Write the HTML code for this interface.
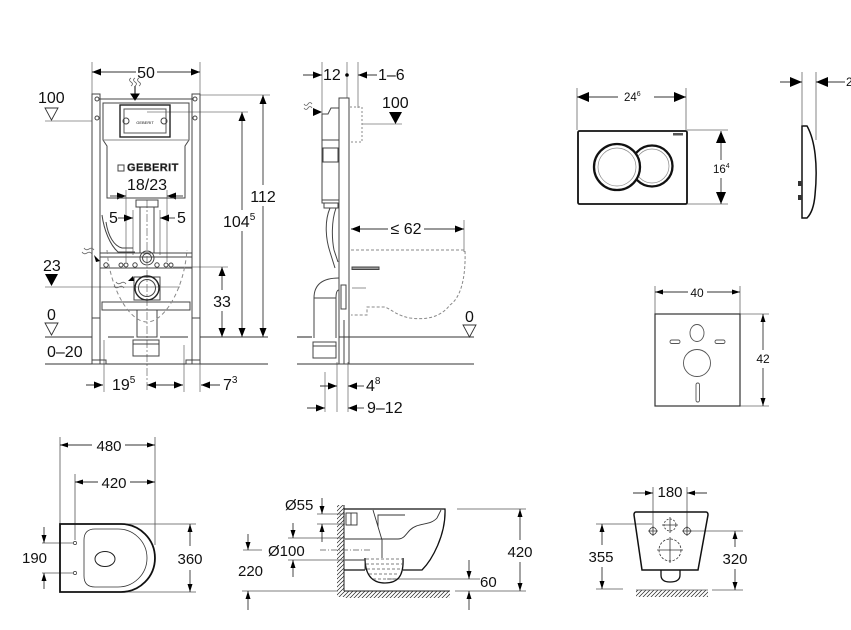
<!DOCTYPE html>
<html><head><meta charset="utf-8"><style>
html,body{margin:0;padding:0;background:#fff;}
svg{display:block;}
text{font-family:"Liberation Sans",Arial,sans-serif;fill:#111;}
</style></head><body>
<svg width="851" height="630" viewBox="0 0 851 630" xmlns="http://www.w3.org/2000/svg">
<defs>
<marker id="A" viewBox="0 0 10 10" refX="10" refY="5" markerWidth="9" markerHeight="7" preserveAspectRatio="none" markerUnits="userSpaceOnUse" orient="auto-start-reverse"><path d="M0,0L10,5L0,10z" fill="#000"/></marker>
<marker id="S" viewBox="0 0 10 10" refX="10" refY="5" markerWidth="8" markerHeight="5" preserveAspectRatio="none" markerUnits="userSpaceOnUse" orient="auto-start-reverse"><path d="M0,0L10,5L0,10z" fill="#000"/></marker>
<marker id="P" viewBox="0 0 10 10" refX="10" refY="5" markerWidth="12" markerHeight="10" preserveAspectRatio="none" markerUnits="userSpaceOnUse" orient="auto-start-reverse"><path d="M0,0L10,5L0,10z" fill="#000"/></marker>
<pattern id="H" width="4" height="4" patternUnits="userSpaceOnUse"><path d="M-1,1L1,-1M0,4L4,0M3,5L5,3" stroke="#222" stroke-width="0.7"/></pattern>
</defs>

<!-- ================= FRAME VIEW (left top) ================= -->
<g stroke="#777" stroke-width="0.8" fill="none">
 <line x1="92" y1="62" x2="92" y2="94"/>
 <line x1="200" y1="62" x2="200" y2="94"/>
 <line x1="200" y1="95" x2="270" y2="95"/>
 <line x1="147" y1="112" x2="248" y2="112"/>
 <line x1="45" y1="121" x2="92" y2="121"/>
 <line x1="45" y1="287" x2="180" y2="287"/>
 <line x1="173" y1="267" x2="228" y2="267"/>
 <line x1="126" y1="190" x2="126" y2="262"/>
 <line x1="167" y1="190" x2="167" y2="262"/>
 <line x1="133" y1="210" x2="133" y2="255"/>
 <line x1="160" y1="210" x2="160" y2="255"/>
 <line x1="104" y1="340" x2="104" y2="392"/>
 <line x1="184" y1="345" x2="184" y2="392"/>
 <line x1="200" y1="364" x2="200" y2="392"/>
 <line x1="147" y1="200" x2="147" y2="392" stroke-dasharray="8,2,2,2"/>
</g>
<g stroke="#333" stroke-width="1.1">
 <line x1="45" y1="337" x2="92" y2="337"/>
 <line x1="108" y1="337" x2="134" y2="337"/>
 <line x1="160" y1="337" x2="188" y2="337"/>
 <line x1="200" y1="337" x2="268" y2="337"/>
 <line x1="45" y1="364" x2="268" y2="364"/>
</g>
<g stroke="#333" stroke-width="0.9" fill="none">
 <line x1="92" y1="72" x2="136" y2="72" marker-start="url(#A)"/>
 <line x1="157" y1="72" x2="200" y2="72" marker-end="url(#A)"/>
 <line x1="263" y1="95" x2="263" y2="185" marker-start="url(#A)"/>
 <line x1="263" y1="206" x2="263" y2="337" marker-end="url(#A)"/>
 <line x1="242" y1="112" x2="242" y2="210" marker-start="url(#A)"/>
 <line x1="242" y1="231" x2="242" y2="337" marker-end="url(#A)"/>
 <line x1="222" y1="267" x2="222" y2="290" marker-start="url(#A)"/>
 <line x1="222" y1="311" x2="222" y2="337" marker-end="url(#A)"/>
 <line x1="86" y1="385" x2="103" y2="385" marker-end="url(#A)"/>
 <line x1="147" y1="385" x2="183" y2="385" marker-start="url(#A)" marker-end="url(#A)"/>
 <line x1="220" y1="385" x2="201" y2="385" marker-end="url(#A)"/>
 <line x1="110" y1="196" x2="126" y2="196" marker-end="url(#A)"/>
 <line x1="183" y1="196" x2="167" y2="196" marker-end="url(#A)"/>
 <line x1="118" y1="218" x2="133" y2="218" marker-end="url(#A)"/>
 <line x1="175" y1="218" x2="160" y2="218" marker-end="url(#A)"/>
</g>
<!-- frame body -->
<g stroke="#444" stroke-width="1" fill="none">
 <rect x="92" y="94" width="8" height="270"/>
 <rect x="192" y="94" width="8" height="270"/>
 <line x1="100" y1="99" x2="192" y2="99"/>
 <line x1="92" y1="318" x2="100" y2="318"/>
 <line x1="192" y1="318" x2="200" y2="318"/>
 <rect x="92" y="360" width="14" height="4"/>
 <rect x="186" y="360" width="14" height="4"/>
 <path d="M103,103H189V140L185,146V198H107V146L103,140Z"/>
 <line x1="103" y1="140" x2="189" y2="140" stroke="#888"/>
 <rect x="120" y="105" width="50" height="32" stroke="#222" stroke-width="1.4"/>
 <rect x="124" y="109" width="42" height="24" stroke="#555"/>
 <circle cx="126" cy="121" r="3"/><circle cx="164" cy="121" r="3"/>
 <circle cx="97" cy="99" r="2"/><circle cx="195" cy="99" r="2"/>
 <circle cx="97" cy="118" r="2"/><circle cx="195" cy="118" r="2"/>
 <rect x="118" y="165" width="6" height="6"/>
 <rect x="136" y="200" width="22" height="7"/>
 <rect x="140" y="207" width="14" height="46"/>
 <path d="M102,215C104,230 110,245 118,252H135"/>
 <path d="M106,222C108,236 114,246 122,248H133"/>
 <rect x="100" y="253" width="92" height="4"/>
 <line x1="100" y1="268" x2="192" y2="268"/>
 <circle cx="147" cy="258" r="7"/>
 <circle cx="147" cy="258" r="4.5"/>
 <circle cx="106" cy="265" r="2.2"/><circle cx="121" cy="265" r="2"/><circle cx="126" cy="265" r="2"/>
 <circle cx="135" cy="265" r="2.2"/><circle cx="157" cy="265" r="2.2"/><circle cx="166" cy="265" r="2"/><circle cx="171" cy="265" r="2"/>
 <path d="M134,277H160V300H134Z"/>
 <circle cx="147" cy="288" r="12" stroke="#222" stroke-width="1.4"/>
 <circle cx="147" cy="288" r="8.5"/>
 <rect x="102" y="302" width="88" height="8"/>
 <rect x="137" y="310" width="20" height="27"/>
 <rect x="133" y="340" width="26" height="16"/>
 <line x1="133" y1="344" x2="159" y2="344"/>
 <path d="M107,250C110,290 130,322 147,322C164,322 184,290 187,250" stroke="#888" stroke-dasharray="4,3"/>
 <path d="M131,86q3,-2 0,-4q-3,-2 0,-4M135,86q3,-2 0,-4q-3,-2 0,-4M139,86q3,-2 0,-4q-3,-2 0,-4" stroke="#666" stroke-width="0.8"/>
 <path d="M84,248q2,3 5,1q3,-2 5,1M82,252q2,3 5,1q3,-2 5,1" stroke="#666" stroke-width="0.8"/>
 <path d="M116,282q2,3 5,1q3,-2 5,1M114,286q2,3 5,1q3,-2 5,1" stroke="#666" stroke-width="0.8"/>
</g>
<path d="M135,86V95M131,94L135,100L139,94Z" fill="#000" stroke="#000" stroke-width="1"/>
<path d="M94,255L100,261L96,262Z" fill="#000"/>
<path d="M128,281L133,276L134,281Z" fill="#000"/>
<text x="127" y="171" font-size="11" fill="#fff" stroke="#666" stroke-width="0.5" font-weight="bold" letter-spacing="0.4">GEBERIT</text>
<text x="145" y="124" font-size="4" text-anchor="middle" fill="#555">GEBERIT</text>
<text x="146" y="78" text-anchor="middle" font-size="16">50</text>
<text x="38" y="103" font-size="16">100</text>
<path d="M45,108H58L51.5,120Z" fill="#fff" stroke="#333" stroke-width="0.9"/>
<text x="43" y="271" font-size="16">23</text>
<path d="M45,274H58L51.5,286Z" fill="#000"/>
<text x="47" y="320" font-size="16">0</text>
<path d="M45,323H58L51.5,335Z" fill="#fff" stroke="#333" stroke-width="0.9"/>
<text x="47" y="357" font-size="16">0–20</text>
<text x="263" y="202" text-anchor="middle" font-size="16">112</text>
<text x="223" y="227" font-size="16">104<tspan font-size="10" dy="-7">5</tspan></text>
<text x="222" y="307" text-anchor="middle" font-size="16">33</text>
<text x="147" y="190" text-anchor="middle" font-size="16">18/23</text>
<text x="109" y="223" font-size="16">5</text>
<text x="177" y="223" font-size="16">5</text>
<text x="112" y="390" font-size="16">19<tspan font-size="10" dy="-7">5</tspan></text>
<text x="223" y="390" font-size="16">7<tspan font-size="10" dy="-7">3</tspan></text>

<!-- ================= SIDE VIEW (middle top) ================= -->
<g stroke="#777" stroke-width="0.8" fill="none">
 <line x1="322" y1="62" x2="322" y2="120"/>
 <line x1="347" y1="62" x2="347" y2="98"/>
 <line x1="358" y1="62" x2="358" y2="108"/>
 <line x1="362" y1="124" x2="402" y2="124"/>
 <line x1="464" y1="220" x2="464" y2="252"/>
 <line x1="337" y1="362" x2="337" y2="412"/>
 <line x1="348" y1="362" x2="348" y2="412"/>
 <line x1="325" y1="372" x2="325" y2="412"/>
 <line x1="352" y1="288" x2="366" y2="288"/>
</g>
<circle cx="347" cy="75" r="1.8" fill="#000"/>
<g stroke="#333" stroke-width="1.1">
 <line x1="297" y1="337" x2="312" y2="337"/>
 <line x1="339" y1="337" x2="474" y2="337"/>
 <line x1="297" y1="364" x2="474" y2="364"/>
</g>
<g stroke="#333" stroke-width="0.9" fill="none">
 <line x1="303" y1="75" x2="322" y2="75" marker-end="url(#A)"/>
 <line x1="377" y1="75" x2="358" y2="75" marker-end="url(#A)"/>
 <line x1="351" y1="229" x2="388" y2="229" marker-start="url(#A)"/>
 <line x1="424" y1="229" x2="464" y2="229" marker-end="url(#A)"/>
 <line x1="320" y1="386" x2="337" y2="386" marker-end="url(#A)"/>
 <line x1="364" y1="386" x2="348" y2="386" marker-end="url(#A)"/>
 <line x1="307" y1="408" x2="325" y2="408" marker-end="url(#A)"/>
 <line x1="364" y1="408" x2="348" y2="408" marker-end="url(#A)"/>
</g>
<g stroke="#444" stroke-width="1" fill="none">
 <rect x="339" y="98" width="10" height="266"/>
 <line x1="344" y1="320" x2="344" y2="364"/>
 <path d="M339,108H331L328,114H322V203H339"/>
 <line x1="322" y1="140" x2="339" y2="140"/>
 <rect x="323" y="148" width="15" height="14"/>
 <line x1="322" y1="200" x2="339" y2="200"/>
 <rect x="324" y="203" width="14" height="5"/>
 <path d="M330,208C324,222 326,240 330,252L335,268"/>
 <path d="M336,208C331,222 332,240 334,250L338,262"/>
 <path d="M314,338V298Q314,278 339,278"/>
 <path d="M336,338V298Q336,290 339,290"/>
 <line x1="314" y1="298" x2="336" y2="298"/>
 <rect x="313" y="342" width="23" height="16"/>
 <line x1="313" y1="346" x2="336" y2="346"/>
 <rect x="341" y="285" width="5" height="24"/>
 <rect x="352" y="267" width="27" height="2.5" fill="#999"/>
 <path d="M350,107H362V142H350" stroke="#888" stroke-dasharray="2,2"/>
 <path d="M351,250H465C466,280 460,298 450,305C440,318 425,320 410,318C398,316 392,310 385,307H367V315H351" stroke="#888" stroke-dasharray="3,2"/>
 <path d="M300,112q3,-2 0,-4q-3,-2 0,-4M304,112q3,-2 0,-4q-3,-2 0,-4" stroke="#666" stroke-width="0.8" transform="rotate(90 306 110)"/>
</g>
<path d="M313,108L322,112L313,116Z" fill="#000"/>
<text x="323" y="80" font-size="16">12</text>
<text x="378" y="80" font-size="16">1–6</text>
<text x="382" y="108" font-size="16">100</text>
<path d="M389,112H402L395.5,124Z" fill="#000"/>
<text x="406" y="234" text-anchor="middle" font-size="16">≤ 62</text>
<text x="465" y="322" font-size="16">0</text>
<path d="M463,325H476L469.5,337Z" fill="#fff" stroke="#333" stroke-width="0.9"/>
<text x="366" y="391" font-size="16">4<tspan font-size="10" dy="-7">8</tspan></text>
<text x="367" y="413" font-size="16">9–12</text>

<!-- ================= FLUSH PLATE ================= -->
<g stroke="#666" stroke-width="0.8" fill="none">
 <line x1="577" y1="88" x2="577" y2="130"/>
 <line x1="686" y1="88" x2="686" y2="130"/>
 <line x1="687" y1="130" x2="728" y2="130"/>
 <line x1="687" y1="204" x2="728" y2="204"/>
 <line x1="802" y1="72" x2="802" y2="125"/>
 <line x1="816" y1="72" x2="816" y2="140"/>
</g>
<g stroke="#333" stroke-width="0.9" fill="none">
 <line x1="577" y1="97" x2="618" y2="97" marker-start="url(#P)"/>
 <line x1="654" y1="97" x2="686" y2="97" marker-end="url(#P)"/>
 <line x1="721" y1="131" x2="721" y2="160" marker-start="url(#P)"/>
 <line x1="721" y1="178" x2="721" y2="204" marker-end="url(#P)"/>
 <line x1="780" y1="82" x2="802" y2="82" marker-end="url(#P)"/>
 <line x1="845" y1="82" x2="816" y2="82" marker-end="url(#P)"/>
</g>
<rect x="578" y="131" width="109" height="73" rx="1.5" fill="#fff" stroke="#111" stroke-width="1.8"/>
<circle cx="652" cy="166" r="20.5" fill="#fff" stroke="#111" stroke-width="2.3"/>
<circle cx="652" cy="166" r="17" fill="none" stroke="#888" stroke-width="0.7"/>
<circle cx="617" cy="167" r="23" fill="#fff" stroke="#111" stroke-width="2.3"/>
<circle cx="617" cy="167" r="19" fill="none" stroke="#888" stroke-width="0.7"/>
<rect x="673" y="133" width="10" height="2.5" fill="#555"/>
<path d="M802,126H807C815,140 818,165 815,195C814,207 811,214 807,218H802Z" fill="#fff" stroke="#111" stroke-width="1.5"/>
<rect x="798" y="181" width="4" height="5" fill="#333"/>
<rect x="798" y="195" width="4" height="5" fill="#333"/>
<text x="624" y="101" font-size="11.5">24<tspan font-size="7" dy="-5">6</tspan></text>
<text x="713" y="173" font-size="11.5">16<tspan font-size="7" dy="-5">4</tspan></text>
<text x="846" y="86" font-size="12">2</text>

<!-- ================= MOUNTING PAD ================= -->
<g stroke="#666" stroke-width="0.8" fill="none">
 <line x1="655" y1="286" x2="655" y2="314"/>
 <line x1="740" y1="286" x2="740" y2="314"/>
 <line x1="740" y1="314" x2="769" y2="314"/>
 <line x1="740" y1="406" x2="769" y2="406"/>
</g>
<g stroke="#333" stroke-width="0.9" fill="none">
 <line x1="655" y1="292" x2="688" y2="292" marker-start="url(#S)"/>
 <line x1="707" y1="292" x2="740" y2="292" marker-end="url(#S)"/>
 <line x1="763" y1="314" x2="763" y2="350" marker-start="url(#S)"/>
 <line x1="763" y1="368" x2="763" y2="406" marker-end="url(#S)"/>
</g>
<rect x="655" y="314" width="85" height="92" fill="none" stroke="#333" stroke-width="1.2"/>
<g stroke="#555" stroke-width="0.9" fill="none">
 <ellipse cx="697" cy="333" rx="7" ry="8.5"/>
 <rect x="670" y="340" width="10" height="3.5" rx="1.7"/>
 <rect x="715" y="340" width="10" height="3.5" rx="1.7"/>
 <circle cx="697" cy="363" r="13.5"/>
 <rect x="696" y="383" width="3.5" height="19" rx="1.7"/>
</g>
<text x="697" y="297" text-anchor="middle" font-size="12">40</text>
<text x="763" y="363" text-anchor="middle" font-size="12">42</text>

<!-- ================= TOP VIEW TOILET ================= -->
<g stroke="#555" stroke-width="0.8" fill="none">
 <line x1="60" y1="437" x2="60" y2="524"/>
 <line x1="155" y1="437" x2="155" y2="545"/>
 <line x1="75" y1="474" x2="75" y2="540"/>
 <line x1="42" y1="543" x2="73" y2="543"/>
 <line x1="42" y1="573" x2="73" y2="573"/>
 <line x1="125" y1="524" x2="196" y2="524"/>
 <line x1="120" y1="592" x2="196" y2="592"/>
</g>
<g stroke="#333" stroke-width="0.9" fill="none">
 <line x1="60" y1="445" x2="92" y2="445" marker-start="url(#S)"/>
 <line x1="125" y1="445" x2="155" y2="445" marker-end="url(#S)"/>
 <line x1="75" y1="482" x2="98" y2="482" marker-start="url(#S)"/>
 <line x1="130" y1="482" x2="155" y2="482" marker-end="url(#S)"/>
 <line x1="44" y1="527" x2="44" y2="543" marker-end="url(#S)"/>
 <line x1="44" y1="589" x2="44" y2="573" marker-end="url(#S)"/>
 <line x1="190" y1="524" x2="190" y2="546" marker-start="url(#S)"/>
 <line x1="190" y1="570" x2="190" y2="592" marker-end="url(#S)"/>
</g>
<path d="M60,524H121A34,34 0 0 1 121,592H60Z" fill="none" stroke="#111" stroke-width="1.8"/>
<path d="M95,529H118A29,29 0 0 1 118,587H95Q84,587 84,576V540Q84,529 95,529Z" fill="none" stroke="#333" stroke-width="0.8"/>
<ellipse cx="105" cy="559" rx="10" ry="7.5" fill="none" stroke="#222" stroke-width="1"/>
<circle cx="75" cy="543" r="1.6" fill="none" stroke="#333" stroke-width="0.7"/>
<circle cx="75" cy="573" r="1.6" fill="none" stroke="#333" stroke-width="0.7"/>
<text x="109" y="451" text-anchor="middle" font-size="15">480</text>
<text x="114" y="488" text-anchor="middle" font-size="15">420</text>
<text x="22" y="563" font-size="15">190</text>
<text x="190" y="564" text-anchor="middle" font-size="15">360</text>

<!-- ================= SIDE VIEW TOILET ================= -->
<rect x="337" y="505" width="7" height="92" fill="url(#H)"/>
<rect x="344" y="591" width="106" height="7" fill="url(#H)"/>
<line x1="344" y1="505" x2="344" y2="591" stroke="#222" stroke-width="1"/>
<line x1="344" y1="591" x2="450" y2="591" stroke="#222" stroke-width="1"/>
<g stroke="#555" stroke-width="0.8" fill="none">
 <line x1="317" y1="514" x2="345" y2="514"/>
 <line x1="317" y1="524" x2="345" y2="524"/>
 <line x1="288" y1="538" x2="345" y2="538"/>
 <line x1="288" y1="560" x2="345" y2="560"/>
 <line x1="243" y1="550" x2="262" y2="550"/>
 <line x1="320" y1="550" x2="372" y2="550" stroke-dasharray="6,2,1,2"/>
 <line x1="242" y1="591" x2="338" y2="591"/>
 <line x1="387" y1="579" x2="480" y2="579"/>
 <line x1="455" y1="591" x2="526" y2="591"/>
 <line x1="457" y1="509" x2="526" y2="509"/>
</g>
<g stroke="#333" stroke-width="0.9" fill="none">
 <line x1="322" y1="498" x2="322" y2="514" marker-end="url(#S)"/>
 <line x1="322" y1="542" x2="322" y2="524" marker-end="url(#S)"/>
 <line x1="293" y1="523" x2="293" y2="538" marker-end="url(#S)"/>
 <line x1="293" y1="577" x2="293" y2="560" marker-end="url(#S)"/>
 <line x1="248" y1="534" x2="248" y2="550" marker-end="url(#S)"/>
 <line x1="248" y1="610" x2="248" y2="591" marker-end="url(#S)"/>
 <line x1="469" y1="560" x2="469" y2="579" marker-end="url(#S)"/>
 <line x1="469" y1="610" x2="469" y2="591" marker-end="url(#S)"/>
 <line x1="520" y1="509" x2="520" y2="540" marker-start="url(#S)"/>
 <line x1="520" y1="562" x2="520" y2="591" marker-end="url(#S)"/>
</g>
<g stroke="#111" stroke-width="1.3" fill="none">
 <path d="M344,509H445C446,535 432,560 422,570H403"/>
 <path d="M344,570H365"/>
 <path d="M365,558C365,577 374,583 385,583C397,583 404,577 403,558"/>
</g>
<g stroke="#333" stroke-width="0.9" fill="none">
 <path d="M373,510L382,540V558"/>
 <path d="M378,527V515H405"/>
 <path d="M382,539H398C404,539 406,534 410,530C418,522 430,526 437,518L441,510"/>
 <path d="M345,539H382M345,560H365V570"/>
 <rect x="346" y="513" width="11" height="12"/>
 <line x1="351" y1="513" x2="351" y2="525"/>
</g>
<g stroke="#555" stroke-width="0.8" stroke-dasharray="3,2">
 <line x1="366" y1="559" x2="402" y2="559"/>
 <line x1="366" y1="564" x2="402" y2="564"/>
 <line x1="367" y1="569" x2="401" y2="569"/>
 <line x1="369" y1="574" x2="399" y2="574"/>
 <line x1="373" y1="579" x2="396" y2="579"/>
</g>
<text x="285" y="510" font-size="15">Ø55</text>
<text x="268" y="556" font-size="15">Ø100</text>
<text x="238" y="576" font-size="15">220</text>
<text x="480" y="587" font-size="15">60</text>
<text x="520" y="557" text-anchor="middle" font-size="15">420</text>

<!-- ================= FRONT VIEW TOILET ================= -->
<rect x="636" y="590" width="72" height="7" fill="url(#H)"/>
<line x1="636" y1="590" x2="708" y2="590" stroke="#555" stroke-width="0.8"/>
<g stroke="#555" stroke-width="0.8" fill="none">
 <line x1="653" y1="487" x2="653" y2="530"/>
 <line x1="687" y1="487" x2="687" y2="530"/>
 <line x1="596" y1="524" x2="652" y2="524"/>
 <line x1="596" y1="589" x2="623" y2="589"/>
 <line x1="688" y1="531" x2="743" y2="531"/>
 <line x1="712" y1="590" x2="743" y2="590"/>
</g>
<g stroke="#333" stroke-width="0.9" fill="none">
 <line x1="633" y1="493" x2="653" y2="493" marker-end="url(#S)"/>
 <line x1="707" y1="493" x2="687" y2="493" marker-end="url(#S)"/>
 <line x1="602" y1="524" x2="602" y2="545" marker-start="url(#S)"/>
 <line x1="602" y1="567" x2="602" y2="589" marker-end="url(#S)"/>
 <line x1="735" y1="531" x2="735" y2="547" marker-start="url(#S)"/>
 <line x1="735" y1="569" x2="735" y2="590" marker-end="url(#S)"/>
</g>
<path d="M636,512H706Q708,512 708,515L698,570H642L634,515Q634,512 636,512Z" fill="none" stroke="#111" stroke-width="1.5"/>
<path d="M661,570V575Q661,582 670,582Q680,582 680,575V570" fill="none" stroke="#111" stroke-width="1.3"/>
<g stroke="#333" stroke-width="0.8" fill="none">
 <circle cx="670" cy="525" r="6" stroke-dasharray="2,1.5"/>
 <path d="M662,525H678M670,517V533"/>
 <circle cx="653" cy="531" r="3.5"/>
 <path d="M648,531H658M653,526V536"/>
 <circle cx="687" cy="531" r="3.5"/>
 <path d="M682,531H692M687,526V536"/>
 <circle cx="670" cy="550" r="11" stroke-dasharray="2.5,1.5"/>
 <path d="M657,550H683M670,537V563"/>
</g>
<text x="670" y="497" text-anchor="middle" font-size="15">180</text>
<text x="601" y="562" text-anchor="middle" font-size="15">355</text>
<text x="735" y="564" text-anchor="middle" font-size="15">320</text>
</svg>
</body></html>
